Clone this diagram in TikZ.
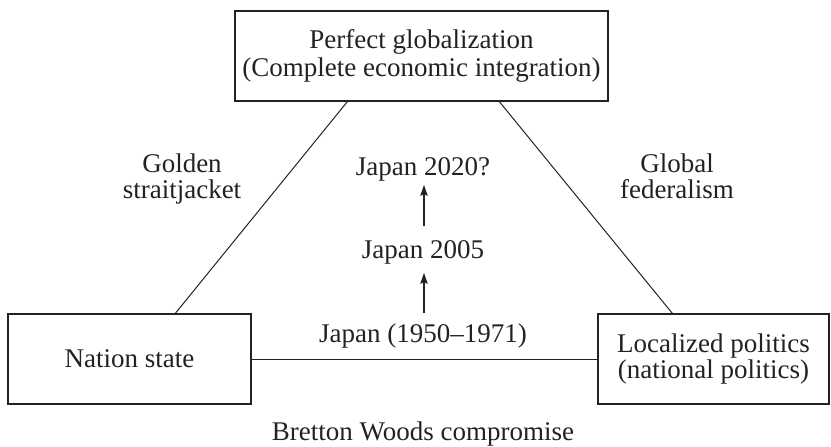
\documentclass[tikz,border=0pt]{standalone}
\usepackage{fontspec}
\setmainfont{Liberation Serif}
\usetikzlibrary{arrows.meta}
\definecolor{ink}{HTML}{222222}
\begin{document}
\begin{tikzpicture}[x=1pt,y=-1pt,
  every node/.style={text=ink,font=\fontsize{27}{27}\selectfont},
  box/.style={draw=ink,line width=1.3pt,rectangle,minimum height=90pt,align=center,inner sep=0pt},
  link/.style={draw=ink,line width=1pt},
  lbl/.style={align=center,inner sep=0pt},
  uparrow/.style={draw=ink,line width=1.1pt,-{Stealth[length=11pt,width=7.5pt,inset=2pt]}}]
\useasboundingbox (0,0) rectangle (831,447);
\node[box,minimum width=373pt] (top) at (421.5,56) {Perfect globalization\\[1pt](Complete economic integration)};
\node[box,minimum width=243pt] (left) at (129.5,359) {Nation state};
\node[box,minimum width=231pt] (right) at (713.5,359) {Localized politics\\[-1pt](national politics)};
\draw[link] ([xshift=113pt]top.south west) -- ([xshift=168pt]left.north west);
\draw[link] ([xshift=265pt]top.south west) -- ([xshift=75pt]right.north west);
\draw[link] (left.east) -- (right.west);
\node[lbl,anchor=base] (j2020) at (423,175) {Japan 2020?};
\node[lbl,anchor=base] (j2005) at (423,258) {Japan 2005};
\node[lbl,anchor=base] (j1950) at (423,342) {Japan (1950–1971)};
\draw[uparrow,shorten <=14pt,shorten >=4pt] ([xshift=1pt]j2005.north) -- ([xshift=1pt]j2020.south);
\draw[uparrow,shorten <=10pt,shorten >=9pt] ([xshift=1pt]j1950.north) -- ([xshift=1pt]j2005.south);
\node[lbl,anchor=base] (golden) at (182,198) {Golden\\[-1pt]straitjacket};
\node[lbl,anchor=base] (global) at (677,198) {Global\\[-1pt]federalism};
\node[lbl,anchor=base] (bretton) at (423,440) {Bretton Woods compromise};
\end{tikzpicture}
\end{document}
